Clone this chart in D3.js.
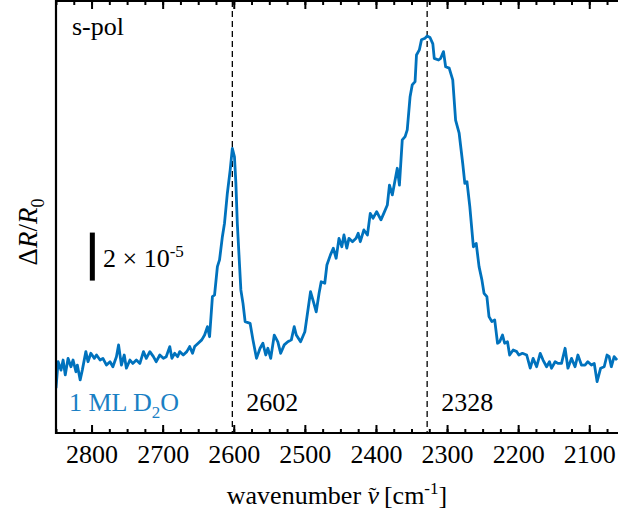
<!DOCTYPE html>
<html lang="en">
<head>
<meta charset="UTF-8">
<title>s-pol D2O spectrum</title>
<script src="https://cdn.jsdelivr.net/npm/d3@7"></script>
<style>
  body { margin: 0; background: #fff; }
  svg text { font-family: "Liberation Serif", "Times New Roman", serif; }
</style>
</head>
<body>
<div id="chart"></div>
<script>

// wavenumber (cm^-1) and dR/R0 (units of 1e-5)
var wavenumber = [2850, 2847, 2843, 2840, 2837, 2833, 2829, 2826, 2822, 2820, 2816, 2813, 2808, 2805, 2801,
  2796, 2793, 2788, 2784, 2779, 2774, 2770, 2765, 2762, 2758, 2754, 2751, 2746, 2742, 2737, 2732, 2727,
  2723, 2718, 2713, 2709, 2704, 2699, 2695, 2690, 2687, 2683, 2679, 2676, 2671, 2666, 2662, 2658, 2655,
  2650, 2645, 2641, 2637, 2634, 2630, 2627, 2623, 2620, 2616, 2613, 2609, 2605, 2602, 2599, 2597, 2595,
  2592, 2590, 2587, 2584, 2577, 2573, 2568, 2563, 2559, 2555, 2552, 2548, 2543, 2538, 2534, 2529, 2524,
  2519, 2515, 2512, 2506, 2500, 2495, 2492, 2488, 2484, 2480, 2477, 2472, 2469, 2464, 2460, 2456, 2452,
  2448, 2445, 2441, 2438, 2433, 2428, 2425, 2422, 2417, 2412, 2408, 2404, 2399, 2393, 2389, 2384, 2381,
  2377, 2370, 2367, 2363, 2359, 2356, 2352, 2349, 2345, 2343, 2339, 2336, 2331, 2328, 2324, 2320, 2318,
  2312, 2309, 2305, 2302, 2297, 2292, 2288, 2283, 2278, 2275, 2272, 2268, 2263, 2259, 2255, 2251, 2248,
  2244, 2241, 2237, 2233, 2229, 2226, 2222, 2219, 2215, 2212, 2207, 2202, 2199, 2194, 2188, 2183, 2179,
  2174, 2169, 2165, 2160, 2156, 2153, 2148, 2144, 2139, 2134, 2130, 2125, 2120, 2116, 2111, 2106, 2102,
  2097, 2093, 2089, 2084, 2079, 2075, 2072, 2069, 2065, 2061];

var deltaR = [-1.38, -0.28, -0.63, -0.21, -0.83, -0.14, -0.49, -0.21, -0.70, -0.42, -1.04, -0.63, 0.14, -0.28, 0.07,
  -0.14, 0.00, -0.21, -0.14, -0.42, -0.28, -0.49, -0.07, 0.42, -0.42, 0.00, -0.55, -0.21, -0.35, -0.21, -0.35, 0.14,
  -0.14, 0.14, -0.07, -0.28, 0.00, -0.14, -0.07, 0.35, -0.14, 0.07, -0.07, 0.14, 0.00, 0.14, 0.35, 0.07, 0.35,
  0.49, 0.63, 0.83, 1.18, 0.76, 2.43, 2.50, 3.68, 3.96, 4.93, 5.49, 6.74, 7.71, 8.61, 8.26, 7.15, 5.49,
  3.82, 2.71, 2.15, 1.39, 1.32, 0.63, -0.14, 0.28, 0.49, 0.00, 0.28, -0.14, 0.83, 0.55, 0.07, 0.42, 0.55,
  0.63, 1.18, 0.83, 0.55, 0.97, 2.01, 2.64, 2.22, 1.80, 2.57, 3.05, 2.99, 3.75, 4.17, 4.45, 4.03, 4.86,
  4.51, 5.00, 4.45, 4.86, 4.72, 4.86, 5.07, 4.72, 5.21, 5.00, 5.90, 5.70, 5.97, 5.63, 5.90, 6.25, 7.08,
  6.67, 7.78, 7.08, 8.96, 9.10, 9.38, 10.76, 11.25, 11.39, 12.50, 12.71, 13.13, 13.20, 13.29, 13.23, 12.96, 12.36,
  12.29, 12.36, 12.64, 12.01, 11.95, 11.46, 9.79, 9.24, 7.99, 7.15, 7.22, 6.18, 4.51, 4.65, 3.68, 3.13, 2.57,
  2.43, 1.60, 1.39, 1.46, 0.49, 0.55, 0.83, 0.49, 0.55, 0.00, 0.21, 0.14, 0.00, 0.07, 0.00, -0.55, -0.14,
  -0.49, 0.07, -0.21, -0.49, -0.28, -0.55, -0.28, -0.35, -0.35, 0.28, -0.55, -0.14, -0.49, 0.00, -0.42, -0.42, -0.28,
  -0.42, -0.35, -1.11, -0.55, -0.49, 0.00, -0.07, -0.49, -0.07, -0.21];

var peakMarks = [2602, 2328];
var majorTicks = [2800, 2700, 2600, 2500, 2400, 2300, 2200, 2100];
var minorTicks = d3.range(2075, 2851, 25);

var W = 618, H = 520;
var margin = {top: 1, left: 56, bottom: 433};
var serif = "'Liberation Serif', 'Times New Roman', serif";

var svg = d3.select("#chart").append("svg")
    .attr("width", W).attr("height", H);

var x = d3.scaleLinear().domain([2850, 2060]).range([margin.left, 617.7]);
var y = d3.scaleLinear().domain([-3.25, 14.79]).range([margin.bottom, 0]);

svg.append("clipPath").attr("id", "plotclip")
  .append("rect").attr("x", margin.left).attr("y", 0)
  .attr("width", W - margin.left).attr("height", margin.bottom);

// dashed peak markers
svg.selectAll("line.peak")
    .data(peakMarks)
    .enter().append("line")
    .attr("class", "peak")
    .attr("x1", function(d){return x(d);})
    .attr("x2", function(d){return x(d);})
    .attr("y1", margin.top)
    .attr("y2", margin.bottom)
    .attr("stroke", "#000")
    .attr("stroke-width", 1.3)
    .attr("stroke-dasharray", "6,4");

var pts = wavenumber.map(function(w, i){return [w, deltaR[i]];});

svg.append("path")
    .datum(pts)
    .attr("clip-path", "url(#plotclip)")
    .attr("fill", "none")
    .attr("stroke", "#0072BD")
    .attr("stroke-width", 2.8)
    .attr("stroke-linejoin", "round")
    .attr("d", d3.line()
        .x(function(d){return x(d[0]);})
        .y(function(d){return y(d[1]);}));

// axes: ticks point inward on top and bottom
function styleAxis(g) {
  g.select(".domain").remove();
  g.selectAll(".tick line").attr("stroke", "#000").attr("stroke-width", 2);
}

var bottomAx = svg.append("g")
    .attr("transform", "translate(0," + margin.bottom + ")")
    .call(d3.axisBottom(x).tickValues(majorTicks).tickSize(-8).tickFormat(d3.format("d")));
styleAxis(bottomAx);
bottomAx.attr("font-family", serif).attr("font-size", 26);
bottomAx.selectAll(".tick text")
    .attr("y", 30).attr("dy", 0)
    .attr("fill", "#000");

var bottomMinor = svg.append("g")
    .attr("transform", "translate(0," + margin.bottom + ")")
    .call(d3.axisBottom(x).tickValues(minorTicks).tickSize(-4).tickFormat(""));
styleAxis(bottomMinor);

var topAx = svg.append("g")
    .attr("transform", "translate(0," + margin.top + ")")
    .call(d3.axisTop(x).tickValues(majorTicks).tickSize(-8).tickFormat(""));
styleAxis(topAx);
var topMinor = svg.append("g")
    .attr("transform", "translate(0," + margin.top + ")")
    .call(d3.axisTop(x).tickValues(minorTicks).tickSize(-4).tickFormat(""));
styleAxis(topMinor);

// frame lines
svg.append("line").attr("x1", margin.left).attr("x2", W).attr("y1", margin.bottom).attr("y2", margin.bottom)
    .attr("stroke", "#000").attr("stroke-width", 2.2);
svg.append("line").attr("x1", margin.left).attr("x2", W).attr("y1", margin.top).attr("y2", margin.top)
    .attr("stroke", "#000").attr("stroke-width", 2.2);
svg.append("line").attr("x1", margin.left).attr("x2", margin.left).attr("y1", 0).attr("y2", margin.bottom + 1)
    .attr("stroke", "#000").attr("stroke-width", 2.2);

// scale bar 2e-5
svg.append("rect")
    .attr("x", x(2801) - 1)
    .attr("y", y(5.1))
    .attr("width", 5)
    .attr("height", y(3.1) - y(5.1))
    .attr("fill", "#000");

var sb = svg.append("text").attr("x", 103).attr("y", 267).attr("font-size", 26).attr("fill", "#000");
sb.append("tspan").text("2 \u00d7 10");
sb.append("tspan").attr("dy", -10).attr("font-size", 17).text("-5");

// labels
svg.append("text").attr("x", 72).attr("y", 35).attr("font-size", 26).text("s-pol");

var ml = svg.append("text").attr("x", 69).attr("y", 411).attr("font-size", 26).attr("fill", "#1a80c4");
ml.append("tspan").text("1 ML D");
ml.append("tspan").attr("dy", 7).attr("font-size", 17).text("2");
ml.append("tspan").attr("dy", -7).text("O");

svg.selectAll("text.peaklabel")
    .data(peakMarks)
    .enter().append("text")
    .attr("class", "peaklabel")
    .attr("x", function(d){return x(d) + 14;})
    .attr("y", 411)
    .attr("font-size", 26)
    .text(function(d){return d;});

// axis titles
var xt = svg.append("text")
    .attr("x", (margin.left + W) / 2)
    .attr("y", 504)
    .attr("text-anchor", "middle")
    .attr("font-size", 26);
xt.append("tspan").text("wavenumber ");
xt.append("tspan").attr("font-style", "italic").text("\u03bd");
xt.append("tspan").attr("dx", -10).attr("dy", -2).attr("font-size", 22).text("\u02dc");
xt.append("tspan").attr("dx", 1).attr("dy", 2).text(" [cm");
xt.append("tspan").attr("dy", -10).attr("font-size", 17).text("-1");
xt.append("tspan").attr("dy", 10).text("]");

var yt = svg.append("text")
    .attr("transform", "translate(37,232) rotate(-90)")
    .attr("text-anchor", "middle")
    .attr("font-size", 27);
yt.append("tspan").text("\u0394");
yt.append("tspan").attr("font-style", "italic").text("R");
yt.append("tspan").text("/");
yt.append("tspan").attr("font-style", "italic").text("R");
yt.append("tspan").attr("dy", 7).attr("font-size", 18).text("0");

</script>
</body>
</html>
